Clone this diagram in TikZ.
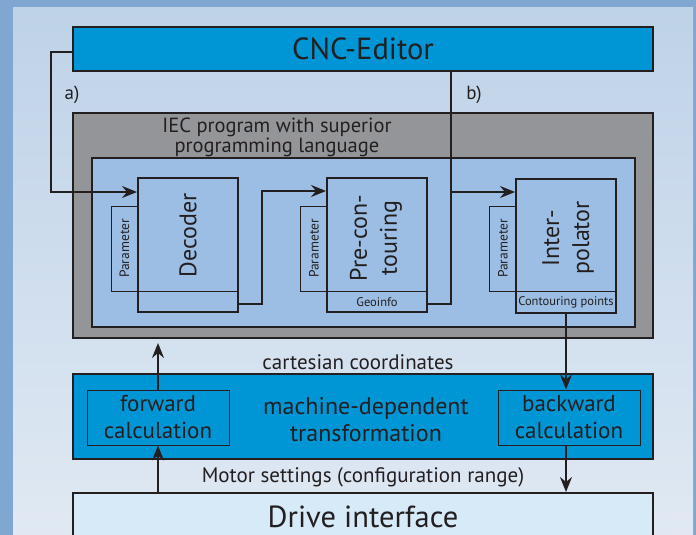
\documentclass[tikz,border=0pt]{standalone}
\usepackage{fontspec}
\setmainfont{PT Sans}
\usetikzlibrary{arrows.meta,calc}
\definecolor{inkdark}{HTML}{231F20}
\definecolor{cncblue}{RGB}{0,150,214}
\definecolor{iecgray}{RGB}{148,149,152}
\definecolor{progblue}{RGB}{156,190,228}
\definecolor{drivebg}{RGB}{214,234,248}
\definecolor{bgout}{RGB}{128,166,210}
\definecolor{bgtop}{RGB}{190,210,232}
\definecolor{bgbot}{RGB}{224,233,243}
\tikzset{
  box/.style={draw=inkdark,line width=2pt,inner sep=0pt,text=inkdark},
  unitbox/.style={box,fill=progblue,minimum width=100pt,minimum height=134pt},
  parbox/.style={draw=inkdark,line width=0.8pt,fill=progblue,inner sep=0pt,minimum width=27pt,minimum height=85pt},
  calcbox/.style={draw=inkdark,line width=1pt,inner sep=0pt,minimum width=142pt,minimum height=55pt,align=center,text=inkdark,font=\fontsize{23}{27}\selectfont},
  lbl/.style={text=inkdark,inner sep=0pt,align=center},
  wire/.style={draw=inkdark,line width=1.6pt},
}
\begin{document}
\begin{tikzpicture}[x=1pt,y=-1pt,>={Stealth[length=15pt,width=12pt,inset=5pt]},line join=miter]
    \useasboundingbox (0,0) rectangle (696,535);
    %% background
    \fill[bgout] (0,0) rectangle (696,535);
    \shade[top color=bgtop,bottom color=bgbot] (13,8) rectangle (693,535);
    %%
    \node (cnc) at (363,49) [box,fill=cncblue,minimum width=580pt,minimum height=44pt,font=\fontsize{30.5}{32}\selectfont] {CNC-Editor};
    \node (iec) at (363,225.5) [box,fill=iecgray,minimum width=580pt,minimum height=225pt] {};
    \node (iectxt) at (277,137) [lbl,font=\fontsize{20.5}{20}\selectfont] {IEC program with superior\\programming language};
    \node (prog) at (363.5,242.5) [box,fill=progblue,minimum width=543pt,minimum height=169pt] {};
    %% parameter boxes
    \node (par1) at (124.5,248.5) [parbox] {};
    \node (par2) at (314,248.5) [parbox] {};
    \node (par3) at (503,248.5) [parbox] {};
    \node (decoder) at (188,245) [unitbox] {};
    \node (precont) at (377,245) [unitbox] {};
    \node (interp) at (566,246) [unitbox] {};
    \draw [line width=0.8pt,inkdark] (par1.south west) -- (par1.south west -| decoder.east);
    \draw [line width=0.8pt,inkdark] (par2.south west) -- (par2.south west -| precont.east);
    \draw [line width=0.8pt,inkdark] (par3.south west) -- (par3.south west -| interp.east);
    \foreach \p in {par1,par2,par3}
      \node at (\p) [lbl,rotate=90,font=\fontsize{13.5}{14}\selectfont] {Parameter};
    \node (dectxt) at (188,235) [lbl,rotate=90,font=\fontsize{24}{26}\selectfont] {Decoder};
    \node (pretxt) at (376,238) [lbl,rotate=90,font=\fontsize{24}{30}\selectfont] {Pre-con-\\touring};
    \node (inttxt) at (568,238) [lbl,rotate=90,font=\fontsize{24}{30}\selectfont] {Inter-\\polator};
    \node (geo) at (377,302) [lbl,font=\fontsize{12.5}{13}\selectfont] {Geoinfo};
    \node (cpts) at (566,302) [lbl,font=\fontsize{12.5}{13}\selectfont] {Contouring points};
    %% lower part
    \node (transf) at (363,416.5) [box,fill=cncblue,minimum width=580pt,minimum height=85pt] {};
    \node (fwd) at (158,417.5) [calcbox] {forward\\calculation};
    \node (bwd) at (569,417.5) [calcbox] {backward\\calculation};
    \node (mdt) at (366,420) [lbl,font=\fontsize{24}{27}\selectfont] {machine-dependent\\transformation};
    \node (drive) at (363,516.5) [box,fill=drivebg,minimum width=580pt,minimum height=47pt,font=\fontsize{30.5}{32}\selectfont] {Drive interface};
    \node (cart) at (358,362) [lbl,font=\fontsize{21}{22}\selectfont] {cartesian coordinates};
    \node (motor) at (363,477) [lbl,font=\fontsize{21}{22}\selectfont] {Motor settings (configuration range)};
    \node (la) at (72,95) [lbl,font=\fontsize{19}{20}\selectfont] {a)};
    \node (lb) at (474,95) [lbl,font=\fontsize{19}{20}\selectfont] {b)};
    %% connectors
    \coordinate (bjoin) at (451,192);
    \draw [wire,->] ($(cnc.west)+(0,3)$) -- ++(-21,0) |- ($(decoder.north west)+(0,15)$);
    \draw [wire,->] ($(decoder.south east)+(0,-9)$) -- ++(23,0) |- ($(precont.north west)+(0,14)$);
    \draw [wire] ($(precont.south east)+(0,-9)$) -| (bjoin) -- (bjoin |- cnc.south);
    \draw [wire,->] (bjoin) -- (bjoin -| interp.west);
    \draw [wire,->] (interp.south) -- (interp.south |- bwd.north);
    \draw [wire,->] (bwd.south -| interp.south) -- (drive.north -| interp.south);
    \draw [wire,->] (fwd.north) -- ($(fwd.north |- iec.south)+(0,4)$);
    \draw [wire,->] (fwd.south |- drive.north) -- (fwd.south);
    %
\end{tikzpicture}
\end{document}
